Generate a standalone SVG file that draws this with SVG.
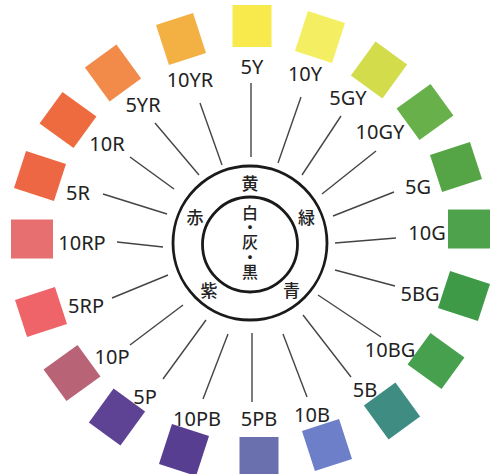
<svg xmlns="http://www.w3.org/2000/svg" width="496" height="474" viewBox="0 0 496 474">
<style>
.lbl{font-family:"Noto Sans","Liberation Sans",sans-serif;font-size:20px;fill:#222;text-anchor:middle}
.jp{font-family:"Noto Sans CJK JP","Noto Sans",sans-serif;font-size:17px;font-weight:500;fill:#222;text-anchor:middle}
.vert{writing-mode:vertical-rl;font-size:16px;letter-spacing:-1.25px}
.ring{fill:none;stroke:#1a1a1a;stroke-width:2.8}
#connectors line{stroke:#444;stroke-width:1.4}
</style>
<defs>
<rect id="s" x="-19.5" y="-21" width="39" height="42"/>
</defs>
<rect width="496" height="474" fill="#fff"/>
<g id="connectors">
<line x1="251" y1="157" x2="251" y2="83"/>
<line x1="278" y1="163" x2="301" y2="97"/>
<line x1="302" y1="175" x2="341" y2="116"/>
<line x1="322" y1="194" x2="376" y2="151"/>
<line x1="333" y1="216" x2="394" y2="192"/>
<line x1="335" y1="243" x2="396" y2="238"/>
<line x1="335" y1="270" x2="395" y2="286"/>
<line x1="318" y1="295" x2="381" y2="337"/>
<line x1="303" y1="315" x2="351" y2="377"/>
<line x1="283" y1="334" x2="307" y2="397"/>
<line x1="252" y1="333" x2="252" y2="402"/>
<line x1="228" y1="334" x2="203" y2="399"/>
<line x1="206" y1="320" x2="163" y2="379"/>
<line x1="183" y1="305" x2="130" y2="345"/>
<line x1="168" y1="275" x2="112" y2="298"/>
<line x1="163" y1="247" x2="117" y2="242"/>
<line x1="167" y1="214" x2="103" y2="194"/>
<line x1="174" y1="189" x2="130" y2="157"/>
<line x1="199" y1="175" x2="155" y2="123"/>
<line x1="222" y1="165" x2="200" y2="103"/>
</g>
<g id="center">
<circle class="ring" cx="250" cy="243" r="77"/>
<circle class="ring" cx="250" cy="244.5" r="47.5"/>
<text class="jp" x="250" y="189.5">黄</text>
<text class="jp vert" x="250" y="241.5">白・灰・黒</text>
<text class="jp" x="195" y="223.5">赤</text>
<text class="jp" x="306.5" y="223.5">緑</text>
<text class="jp" x="209" y="296.5">紫</text>
<text class="jp" x="291.5" y="296.5">青</text>
</g>
<g id="n5Y"><use href="#s" fill="#f8ea4c" transform="translate(252,26)"/><text class="lbl" x="252" y="74">5Y</text></g>
<g id="n10Y"><use href="#s" fill="#f4ef62" transform="translate(320,37) rotate(18)"/><text class="lbl" x="305" y="81">10Y</text></g>
<g id="n5GY"><use href="#s" fill="#d3dc4a" transform="translate(379,70) rotate(36)"/><text class="lbl" x="348" y="105">5GY</text></g>
<g id="n10GY"><use href="#s" fill="#68b14a" transform="translate(425,112) rotate(54)"/><text class="lbl" x="380" y="139">10GY</text></g>
<g id="n5G"><use href="#s" fill="#55a546" transform="translate(456,167) rotate(72)"/><text class="lbl" x="418" y="194">5G</text></g>
<g id="n10G"><use href="#s" fill="#4ea24c" transform="translate(469,229) rotate(90)"/><text class="lbl" x="427" y="240">10G</text></g>
<g id="n5BG"><use href="#s" fill="#3f9a48" transform="translate(464,296) rotate(108)"/><text class="lbl" x="420" y="301">5BG</text></g>
<g id="n10BG"><use href="#s" fill="#47a04e" transform="translate(436,361) rotate(126)"/><text class="lbl" x="390" y="357">10BG</text></g>
<g id="n5B"><use href="#s" fill="#3e8c82" transform="translate(392,411) rotate(144)"/><text class="lbl" x="365" y="397">5B</text></g>
<g id="n10B"><use href="#s" fill="#6c7fc8" transform="translate(327,445) rotate(162)"/><text class="lbl" x="312" y="422">10B</text></g>
<g id="n5PB"><use href="#s" fill="#6a6fae" transform="translate(259,458) rotate(180)"/><text class="lbl" x="259" y="426">5PB</text></g>
<g id="n10PB"><use href="#s" fill="#573e91" transform="translate(184,450) rotate(198)"/><text class="lbl" x="197" y="426">10PB</text></g>
<g id="n5P"><use href="#s" fill="#5e4394" transform="translate(117,417) rotate(216)"/><text class="lbl" x="145" y="404">5P</text></g>
<g id="n10P"><use href="#s" fill="#b96377" transform="translate(72,373) rotate(234)"/><text class="lbl" x="112" y="364">10P</text></g>
<g id="n5RP"><use href="#s" fill="#ee6468" transform="translate(41,312) rotate(252)"/><text class="lbl" x="86" y="313">5RP</text></g>
<g id="n10RP"><use href="#s" fill="#e76f70" transform="translate(32,239) rotate(270)"/><text class="lbl" x="82" y="250">10RP</text></g>
<g id="n5R"><use href="#s" fill="#ee6745" transform="translate(40,176) rotate(288)"/><text class="lbl" x="78" y="200">5R</text></g>
<g id="n10R"><use href="#s" fill="#ee6b40" transform="translate(68,120) rotate(306)"/><text class="lbl" x="107" y="151">10R</text></g>
<g id="n5YR"><use href="#s" fill="#f28a4a" transform="translate(113,73) rotate(324)"/><text class="lbl" x="143" y="112">5YR</text></g>
<g id="n10YR"><use href="#s" fill="#f2b142" transform="translate(181,39) rotate(342)"/><text class="lbl" x="190" y="87">10YR</text></g>
</svg>
